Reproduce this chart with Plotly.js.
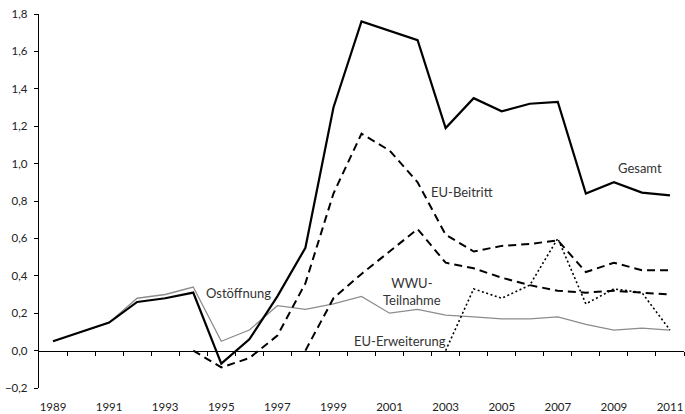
<!DOCTYPE html>
<html>
<head>
<meta charset="utf-8">
<script src="https://cdn.plot.ly/plotly-3.0.1.min.js"></script>
<style>html,body{margin:0;padding:0;background:#fff;}#chart{width:685px;height:414px;}</style>
</head>
<body>
<div id="chart"></div>
<script>
var years = [1989,1990,1991,1992,1993,1994,1995,1996,1997,1998,1999,2000,2001,2002,2003,2004,2005,2006,2007,2008,2009,2010,2011];
var gesamt = [0.05,0.10,0.15,0.26,0.28,0.31,-0.07,0.06,0.29,0.55,1.30,1.76,1.71,1.66,1.19,1.35,1.28,1.32,1.33,0.84,0.90,0.845,0.83];
var ostoeffnung = [0.05,0.10,0.15,0.28,0.30,0.34,0.05,0.11,0.24,0.22,0.25,0.29,0.20,0.22,0.19,0.18,0.17,0.17,0.18,0.14,0.11,0.12,0.11];
var euBeitritt = [null,null,null,null,null,0.0,-0.09,-0.04,0.08,0.36,0.84,1.16,1.07,0.90,0.62,0.53,0.56,0.57,0.59,0.42,0.47,0.43,0.43];
var wwu = [null,null,null,null,null,null,null,null,null,0.0,0.28,0.41,0.53,0.65,0.47,0.44,0.39,0.35,0.32,0.31,0.32,0.31,0.30];
var euErweiterung = [null,null,null,null,null,null,null,null,null,null,null,null,null,null,0.0,0.33,0.28,0.35,0.60,0.25,0.33,0.31,0.11];
var xTickLabels = ['1989','1991','1993','1995','1997','1999','2001','2003','2005','2007','2009','2011'];
var yTicks = [-0.2,0,0.2,0.4,0.6,0.8,1.0,1.2,1.4,1.6,1.8];

var xTickVals = xTickLabels.map(Number);
var boundaries = years.map(function(y){return y+0.5;});

var FONT = 'Lato, "Open Sans", sans-serif';
var traces = [
  {x: years, y: ostoeffnung, mode:'lines', line:{color:'#8c8c8c', width:1.3}, name:'Ostöffnung'},
  {x: years, y: euErweiterung, mode:'lines', line:{color:'#000', width:1.6, dash:'2px,2.5px'}, name:'EU-Erweiterung'},
  {x: years, y: wwu, mode:'lines', line:{color:'#000', width:2, dash:'8px,5px'}, name:'WWU-Teilnahme'},
  {x: years, y: euBeitritt, mode:'lines', line:{color:'#000', width:2, dash:'8px,5px'}, name:'EU-Beitritt'},
  {x: years, y: gesamt, mode:'lines', line:{color:'#000', width:2.2}, name:'Gesamt'},
  {x: [years[0]], y: [null], xaxis:'x2', mode:'lines', hoverinfo:'skip', showlegend:false}
];

var annFont = {family: FONT, size: 13, color: '#333'};
var layout = {
  width: 685, height: 414,
  margin: {l: 39, r: 1, t: 14, b: 26},
  paper_bgcolor: '#fff', plot_bgcolor: '#fff',
  showlegend: false,
  separators: ',.',
  font: {family: FONT, size: 11.5, color: '#222'},
  xaxis: {
    range: [1988.5, 2011.5], showgrid: false, zeroline: false, showline: false,
    tickvals: xTickVals, ticktext: xTickLabels, ticks: '', ticklabelstandoff: 10,
    tickfont: {family: FONT, size: 11.5, color: '#222'}
  },
  xaxis2: {
    overlaying: 'x', anchor: 'free', position: 0.1,
    range: [1988.5, 2011.5], showgrid: false, zeroline: false,
    showline: true, linecolor: '#000', linewidth: 1.2,
    tickvals: boundaries, ticks: 'outside', ticklen: 4, tickcolor: '#000', tickwidth: 1,
    showticklabels: false
  },
  yaxis: {
    range: [-0.2, 1.8], showgrid: false, zeroline: false,
    showline: true, linecolor: '#000', linewidth: 1.2,
    tickvals: yTicks, tickformat: '.1f', ticks: 'outside', ticklen: 4, tickcolor: '#000',
    ticklabelstandoff: 4,
    tickfont: {family: FONT, size: 11.5, color: '#222'}
  },
  annotations: [
    {x: 2009.93, y: 0.975, text: 'Gesamt', showarrow: false, font: annFont},
    {x: 2003.58, y: 0.847, text: 'EU-Beitritt', showarrow: false, font: annFont},
    {x: 2001.8, y: 0.317, text: 'WWU-<br>Teilnahme', showarrow: false, font: annFont},
    {x: 1995.6, y: 0.307, text: 'Ostöffnung', showarrow: false, font: annFont},
    {x: 2001.37, y: 0.05, text: 'EU-Erweiterung', showarrow: false, font: annFont}
  ]
};
Plotly.newPlot('chart', traces, layout, {staticPlot: true, displayModeBar: false});
</script>
</body>
</html>
